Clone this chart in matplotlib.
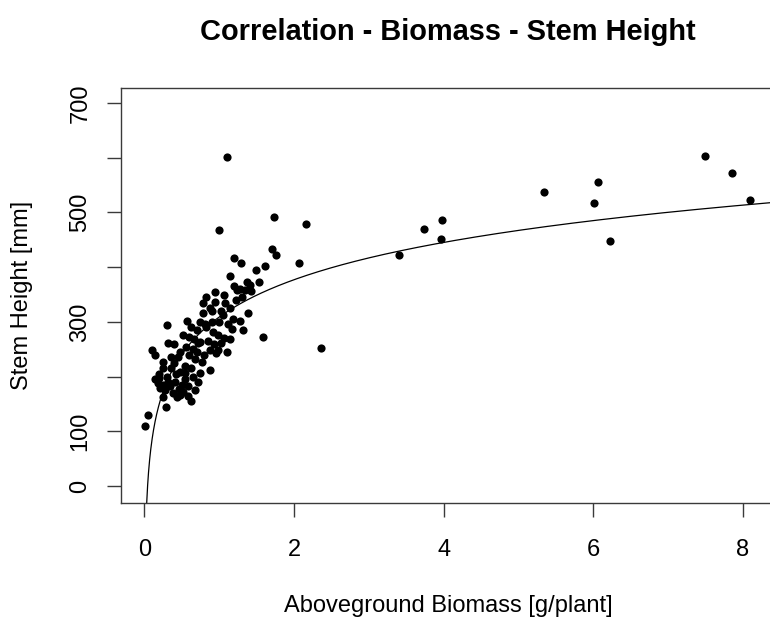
import matplotlib
matplotlib.use("Agg")
import matplotlib.pyplot as plt
import numpy as np

plt.rcParams['font.family'] = ['Liberation Sans', 'DejaVu Sans']

# Aboveground biomass [g/plant] and stem height [mm]
biomass = [
    0.01, 0.05, 0.10, 0.14, 0.29, 0.63, 1.10, 1.00, 1.73, 1.71, 1.76, 2.16, 2.07,
    2.36, 3.40, 3.74, 3.98, 3.97, 5.34, 6.07, 6.01, 6.23, 7.49, 7.85, 8.10,
    1.20, 1.29, 1.49, 1.61, 1.15, 1.37, 1.41, 1.53, 1.20, 1.24, 1.28, 1.35, 1.43,
    1.06, 0.83, 0.95, 0.79, 1.08, 1.15, 0.90, 0.79, 1.39, 1.18, 0.57, 1.28, 0.81,
    0.83, 1.32, 1.17, 0.92, 0.99, 0.52, 1.59, 1.06, 1.15, 0.66, 0.74, 0.99, 1.10,
    0.30, 0.90, 0.82,
    0.32, 0.39, 0.60, 0.72, 0.88, 0.96, 0.48, 0.25, 0.68, 0.77, 0.25, 0.48, 0.54,
    0.74, 0.88, 0.14, 0.19, 0.32, 0.41, 0.25, 0.50, 0.59, 0.72, 0.21, 0.34, 0.52,
    0.43, 0.48, 0.25,
    0.20, 0.30, 0.36, 0.40, 0.45, 0.55, 0.60, 0.65, 0.62, 0.70, 0.56, 0.42, 0.35,
    0.18, 0.28, 0.55, 0.65, 0.46, 0.38, 0.58, 0.68, 0.80, 0.85, 0.93, 1.02, 0.70,
    0.62, 1.00, 1.05, 1.12, 1.22, 1.30, 0.88, 0.95, 1.02, 0.75,
]
stem_height = [
    110, 130, 249, 240, 145, 155, 602, 468, 492, 434, 423, 478, 407,
    252, 423, 470, 487, 451, 537, 556, 517, 448, 603, 573, 523,
    416, 407, 394, 402, 383, 373, 367, 373, 366, 358, 361, 358, 356,
    350, 346, 337, 334, 334, 325, 319, 316, 316, 306, 302, 302, 297,
    290, 286, 287, 282, 276, 276, 272, 270, 268, 268, 264, 249, 245,
    294, 300, 294,
    262, 260, 273, 261, 249, 243, 245, 227, 232, 227, 215, 209, 206,
    206, 212, 195, 197, 191, 191, 185, 185, 182, 191, 179, 182, 172,
    163, 166, 162,
    205, 200, 215, 225, 235, 220, 240, 250, 215, 245, 255, 205, 235,
    188, 175, 195, 200, 178, 170, 165, 175, 240, 265, 260, 262, 285,
    290, 300, 312, 296, 340, 345, 325, 355, 320, 300,
]

# Logarithmic fit: height = a + b * ln(biomass)
fit_intercept = 308.8
fit_slope = 98.4

x_ticks = [0, 2, 4, 6, 8]
x_tick_labels = ['0', '2', '4', '6', '8']
y_ticks = [0, 100, 200, 300, 400, 500, 600, 700]
y_tick_labels = ['0', '100', '', '300', '', '500', '', '700']

W, H = 770, 619
fig = plt.figure(figsize=(W / 100, H / 100), dpi=100)
left, right, top, bottom = 120.7, 775.0, 87.7, 503.0
ax = fig.add_axes([left / W, 1 - bottom / H, (right - left) / W, (bottom - top) / H])

ax.plot(biomass, stem_height, 'o', color='black', markersize=5.9, markeredgewidth=0)

xs = np.linspace(0.002, 9.0, 3000)
ax.plot(xs, fit_intercept + fit_slope * np.log(xs), color='black', linewidth=0.9)

ax.set_xlim(-0.316, 8.43)
ax.set_ylim(-31, 728)

ax.set_xticks(x_ticks)
ax.set_xticklabels(x_tick_labels)
ax.set_yticks(y_ticks)
ax.set_yticklabels(y_tick_labels)

for s in ax.spines.values():
    s.set_color('#3a3a3a')
    s.set_linewidth(1.0)

ax.tick_params(axis='both', direction='out', length=10.1, width=1.0, color='#3a3a3a',
               labelsize=17, labelcolor='black')
ax.tick_params(axis='x', pad=16)
ax.tick_params(axis='y', pad=11, labelrotation=90)
for lbl in ax.get_yticklabels():
    lbl.set_va('center')

ax.set_xlabel('Aboveground Biomass [g/plant]', fontsize=17, color='black')
ax.xaxis.set_label_coords(0.5, -(606 - bottom) / (bottom - top))
ax.xaxis.label.set_va('center')

ax.set_ylabel('Stem Height [mm]', fontsize=17, color='black')
ax.yaxis.set_label_coords(-(left - 22) / (right - left), 0.5)
ax.yaxis.label.set_va('center')

fig.text((left + right) / 2 / W, 1 - 32.5 / H, 'Correlation - Biomass - Stem Height',
         ha='center', va='center', fontsize=20.9, fontweight='bold', color='black')

fig.savefig('out.png', dpi=100, facecolor='white')
